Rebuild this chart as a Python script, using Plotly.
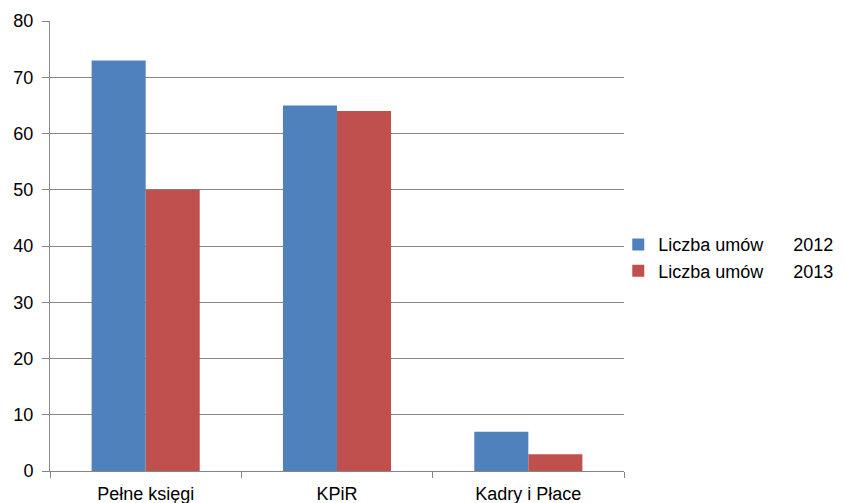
import plotly.graph_objects as go

categories = ["Pełne księgi", "KPiR", "Kadry i Płace"]
series_2012 = [73, 65, 7]
series_2013 = [50, 64, 3]
series_names = ["Liczba umów\u00a0\u00a0\u00a0\u00a0\u00a0\u00a02012",
                "Liczba umów\u00a0\u00a0\u00a0\u00a0\u00a0\u00a02013"]
y_ticks = [0, 10, 20, 30, 40, 50, 60, 70, 80]

fig = go.Figure()
fig.add_trace(go.Bar(x=categories, y=series_2012, name=series_names[0],
                     marker=dict(color="#4F81BD", line=dict(width=0))))
fig.add_trace(go.Bar(x=categories, y=series_2013, name=series_names[1],
                     marker=dict(color="#C0504D", line=dict(width=0))))

fig.update_layout(
    width=837, height=495,
    margin=dict(l=42, r=221, t=13, b=32, autoexpand=False),
    paper_bgcolor="white", plot_bgcolor="white",
    barmode="group", bargap=0.435, bargroupgap=0,
    font=dict(family="Liberation Sans, Arial, sans-serif", size=18, color="#000000"),
    legend=dict(x=0.99, y=0.474, xref="paper", xanchor="left", yanchor="middle",
                font=dict(size=18), itemwidth=30, tracegroupgap=4,
                bgcolor="rgba(0,0,0,0)"),
    showlegend=True,
)
fig.update_xaxes(
    automargin=False,
    showline=True, linecolor="#868686", linewidth=1,
    ticks="outside", tickson="boundaries", ticklen=6, tickcolor="#868686",
    ticklabelstandoff=6,
    showgrid=False, tickfont=dict(size=18),
)
fig.update_yaxes(
    automargin=False,
    range=[0, 80], tickvals=y_ticks,
    showline=True, linecolor="#868686", linewidth=1,
    ticks="outside", ticklen=7, tickcolor="#868686",
    ticklabelstandoff=5,
    showgrid=True, gridcolor="#868686", gridwidth=1,
    zeroline=False, tickfont=dict(size=18),
)

fig.write_html("out.html")
